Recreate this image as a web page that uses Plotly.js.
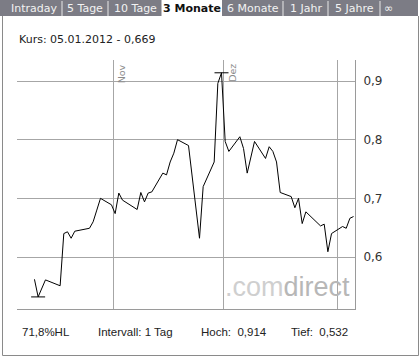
<!DOCTYPE html>
<html>
<head>
<meta charset="utf-8">
<script src="https://cdn.plot.ly/plotly-3.0.1.min.js"></script>
<style>
html,body{margin:0;padding:0;background:#fff;}
#chart{width:420px;height:358px;}
</style>
</head>
<body>
<div id="chart"></div>
<script>
// ---- data (daily closing prices) ----
const tradeDates = [
  '2011-10-10','2011-10-11','2011-10-13','2011-10-17','2011-10-18','2011-10-19','2011-10-20','2011-10-21',
  '2011-10-25','2011-10-26','2011-10-27','2011-10-28','2011-10-31','2011-11-01','2011-11-02','2011-11-03',
  '2011-11-07','2011-11-08','2011-11-09','2011-11-10','2011-11-11','2011-11-14','2011-11-15','2011-11-16',
  '2011-11-17','2011-11-18','2011-11-21','2011-11-24','2011-11-25','2011-11-28','2011-11-29','2011-11-30',
  '2011-12-01','2011-12-02','2011-12-05','2011-12-06','2011-12-07','2011-12-09','2011-12-12','2011-12-13',
  '2011-12-14','2011-12-15','2011-12-16','2011-12-19','2011-12-20','2011-12-21','2011-12-22','2011-12-23',
  '2011-12-27','2011-12-28','2011-12-29','2011-12-30','2012-01-02','2012-01-03','2012-01-04','2012-01-05'
];
const closePrices = [
  0.562,0.532,0.561,0.551,0.640,0.643,0.632,0.644,
  0.649,0.660,0.680,0.700,0.689,0.674,0.709,0.697,
  0.681,0.710,0.694,0.709,0.711,0.743,0.740,0.762,
  0.777,0.800,0.790,0.632,0.720,0.762,0.896,0.914,
  0.797,0.780,0.805,0.785,0.743,0.797,0.768,0.788,
  0.780,0.762,0.710,0.703,0.684,0.700,0.657,0.677,
  0.653,0.656,0.609,0.640,0.652,0.649,0.666,0.669
];
const monthTickDates = ['2011-11-01','2011-12-01','2012-01-01'];
const monthTickLabels = ['Nov','Dez',''];
const priceTicks = [0.6,0.7,0.8,0.9];
const tabLabels = ['Intraday','5 Tage','10 Tage','3 Monate','6 Monate','1 Jahr','5 Jahre','\u221E'];
const activeTab = '3 Monate';
const intervalLabel = 'Intervall: 1 Tag';

// ---- derived ----
const xPlot = tradeDates.map(d => d + ' 12:00');
const hoch = Math.max(...closePrices);
const tief = Math.min(...closePrices);
const hochIdx = closePrices.indexOf(hoch);
const tiefIdx = closePrices.indexOf(tief);
const lastIdx = closePrices.length - 1;
const fmt = (v, n) => v.toFixed(n).replace('.', ',');
const lastDateParts = tradeDates[lastIdx].split('-');
const kursText = 'Kurs: ' + lastDateParts[2] + '.' + lastDateParts[1] + '.' + lastDateParts[0] + ' - ' + fmt(closePrices[lastIdx], 3);
const hlText = fmt((hoch - tief) / tief * 100, 1) + '%HL';

// ---- layout geometry (pixels) ----
const W = 420, H = 358;
const M = {l: 17, r: 65, t: 60, b: 49};
const PW = W - M.l - M.r, PH = H - M.t - M.b;
const px = x => (x - M.l) / PW;
const py = y => (H - M.b - y) / PH;

const annotations = [];
const shapes = [];
const DV = 'DejaVu Sans, Verdana, sans-serif';
const AR = 'Liberation Sans, Arial, sans-serif';

// tab bar
shapes.push({type:'rect', xref:'paper', yref:'paper', x0:px(0), x1:px(418), y0:py(16), y1:py(0),
  fillcolor:'#7c7c85', line:{width:0}, layer:'above'});
const tabCenters = [34, 85, 135, 192, 253, 306, 354, 388];
const tabSeps = [62, 108, 283, 328, 380];
tabSeps.forEach(s => shapes.push({type:'line', xref:'paper', yref:'paper', x0:px(s), x1:px(s), y0:py(16), y1:py(1),
  line:{color:'#e8e8e8', width:1}, layer:'above'}));
shapes.push({type:'rect', xref:'paper', yref:'paper', x0:px(161.5), x1:px(222), y0:py(17), y1:py(0),
  fillcolor:'#ffffff', line:{width:0}, layer:'above'});
tabLabels.forEach((t, i) => {
  const act = t === activeTab;
  annotations.push({text: act ? '<b>' + t + '</b>' : t, xref:'paper', yref:'paper', x:px(tabCenters[i]), y:py(8.5),
    xanchor:'center', yanchor:'middle', showarrow:false,
    font:{family:DV, size:11, color: act ? '#111' : '#f2f2f2'}});
});

// outer frame
shapes.push({type:'line', xref:'paper', yref:'paper', x0:px(2.5), x1:px(2.5), y0:py(16), y1:py(355.5), line:{color:'#8a8a8a', width:1}});
shapes.push({type:'line', xref:'paper', yref:'paper', x0:px(2.5), x1:px(418.5), y0:py(355.5), y1:py(355.5), line:{color:'#8a8a8a', width:1}});
shapes.push({type:'line', xref:'paper', yref:'paper', x0:px(418.5), x1:px(418.5), y0:py(16), y1:py(355.5), line:{color:'#8a8a8a', width:1}});

// Kurs header
annotations.push({text:kursText, xref:'paper', yref:'paper', x:px(17), y:py(40), xanchor:'left', yanchor:'middle',
  showarrow:false, font:{family:DV, size:11, color:'#222'}});

// bottom info
const infoItems = [[hlText, 20], [intervalLabel, 96], ['Hoch:\u00a0\u00a0' + fmt(hoch, 3), 198.5], ['Tief:\u00a0\u00a0' + fmt(tief, 3), 289]];
infoItems.forEach(([t, x]) => annotations.push({text:t, xref:'paper', yref:'paper', x:px(x), y:py(332), xanchor:'left', yanchor:'middle',
  showarrow:false, font:{family:AR, size:11.5, color:'#222'}}));

// watermark
annotations.push({text:'<span style="color:#cfcfcf">.com</span><span style="color:#b7b7b7">direct</span>',
  xref:'paper', yref:'paper', x:px(223), y:py(286.5), xanchor:'left', yanchor:'middle', showarrow:false,
  font:{family:AR, size:27, color:'#c8c8c8'}});

// month labels
monthTickDates.forEach((d, i) => {
  if (!monthTickLabels[i]) return;
  annotations.push({text:monthTickLabels[i], xref:'x', yref:'paper', x:d, y:1, xanchor:'left', yanchor:'top',
    textangle:-90, showarrow:false, xshift:1, yshift:-2, font:{family:DV, size:9.5, color:'#8a8a8a'}});
});

const traces = [
  {x:xPlot, y:closePrices, type:'scatter', mode:'lines', line:{color:'#000', width:1}, hoverinfo:'skip'},
  {x:[xPlot[hochIdx], xPlot[tiefIdx]], y:[hoch, tief], type:'scatter', mode:'markers',
   marker:{symbol:'line-ew', size:10, line:{color:'#000', width:1}}, hoverinfo:'skip'}
];

const layout = {
  width:W, height:H, margin:M, showlegend:false,
  paper_bgcolor:'#fff', plot_bgcolor:'#fff', separators:',.',
  xaxis:{type:'date', range:['2011-10-05 17:45','2012-01-05 21:30'], tickvals:monthTickDates, showticklabels:false,
    ticks:'', showgrid:true, gridcolor:'#a6a6a6', gridwidth:1, showline:true, linecolor:'#9a9a9a', linewidth:1,
    zeroline:false, fixedrange:true},
  yaxis:{side:'right', range:[0.5114, 0.9358], tickvals:priceTicks, tickformat:'.1f', ticks:'', ticklabelstandoff:5,
    showgrid:true, gridcolor:'#a6a6a6', gridwidth:1, showline:true, linecolor:'#9a9a9a', linewidth:1,
    zeroline:false, tickfont:{family:DV, size:12, color:'#333'}, fixedrange:true},
  shapes:shapes, annotations:annotations
};

Plotly.newPlot('chart', traces, layout, {staticPlot:true, displayModeBar:false});
</script>
</body>
</html>
